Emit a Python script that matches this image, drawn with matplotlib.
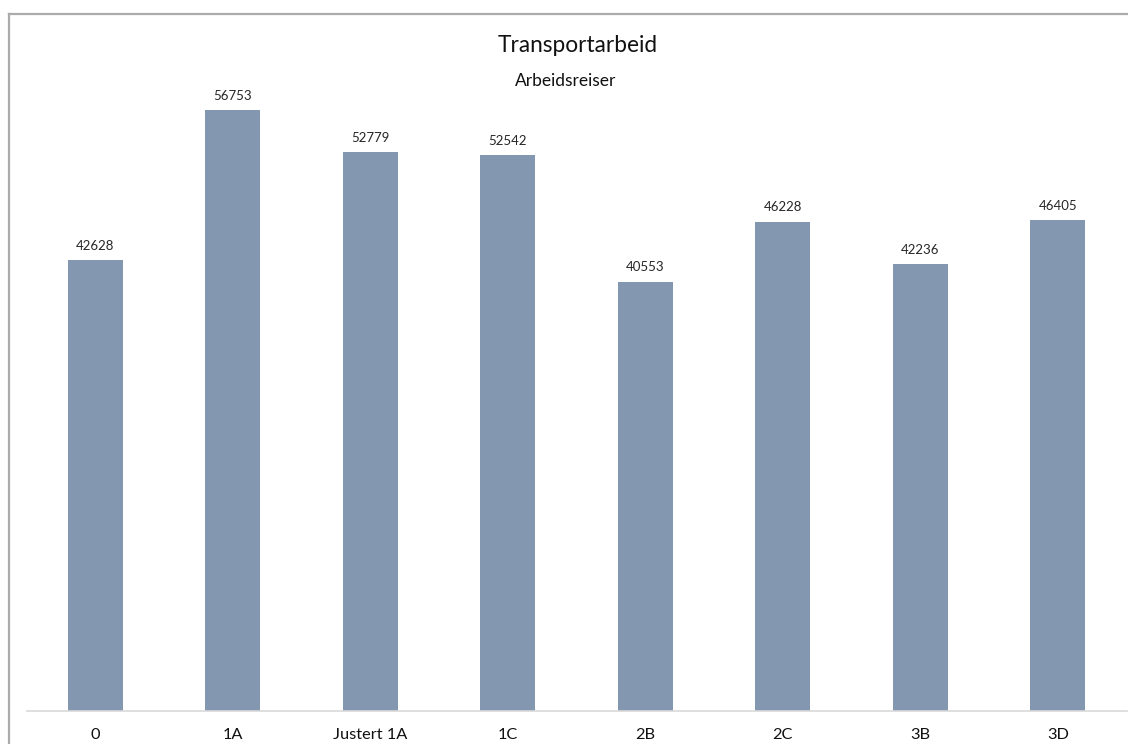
import matplotlib
matplotlib.use("Agg")
import matplotlib.pyplot as plt
from matplotlib.lines import Line2D

plt.rcParams['font.family'] = ['Lato', 'DejaVu Sans']

categories = ['0', '1A', 'Justert 1A', '1C', '2B', '2C', '3B', '3D']
values = [42628, 56753, 52779, 52542, 40553, 46228, 42236, 46405]

bar_color = '#8497b0'

fig = plt.figure(figsize=(11.28, 7.44), dpi=100)
ax = fig.add_axes([0.0237, 0.0444, 0.975, 0.8534])

x = range(len(categories))
bars = ax.bar(x, values, width=0.4, color=bar_color, zorder=2)
for b, v in zip(bars, values):
    ax.annotate(str(v), (b.get_x() + b.get_width() / 2, v),
                xytext=(0, 6), textcoords='offset points',
                ha='center', va='bottom', fontsize=9.5, color='#262626')

ax.set_xlim(-0.5, len(categories) - 0.5)
ax.set_ylim(0, 60000)
ax.set_xticks(list(x))
ax.set_xticklabels(categories, fontsize=11.8, color='#111111')
ax.tick_params(axis='x', length=0, pad=12)
ax.set_yticks([])
for side in ['top', 'right', 'left']:
    ax.spines[side].set_visible(False)
ax.spines['bottom'].set_color('#d9d9d9')
ax.spines['bottom'].set_linewidth(1.2)

# chart title and subtitle
fig.text(578 / 1128, 1 - 45 / 744, 'Transportarbeid', ha='center', va='center', fontsize=16.3, color='#111111')
fig.text(566 / 1128, 1 - 81 / 744, 'Arbeidsreiser', ha='center', va='center', fontsize=12.5, color='#111111')

# outer frame (top and left edges)
fw, fh = 1128.0, 744.0
fig.add_artist(Line2D([9 / fw, 1.0], [1 - 14 / fh, 1 - 14 / fh], color='#ababab', lw=1.6,
                      transform=fig.transFigure))
fig.add_artist(Line2D([9 / fw, 9 / fw], [1 - 14 / fh, 0.0], color='#ababab', lw=1.6,
                      transform=fig.transFigure))

fig.savefig('out.png', dpi=100)
